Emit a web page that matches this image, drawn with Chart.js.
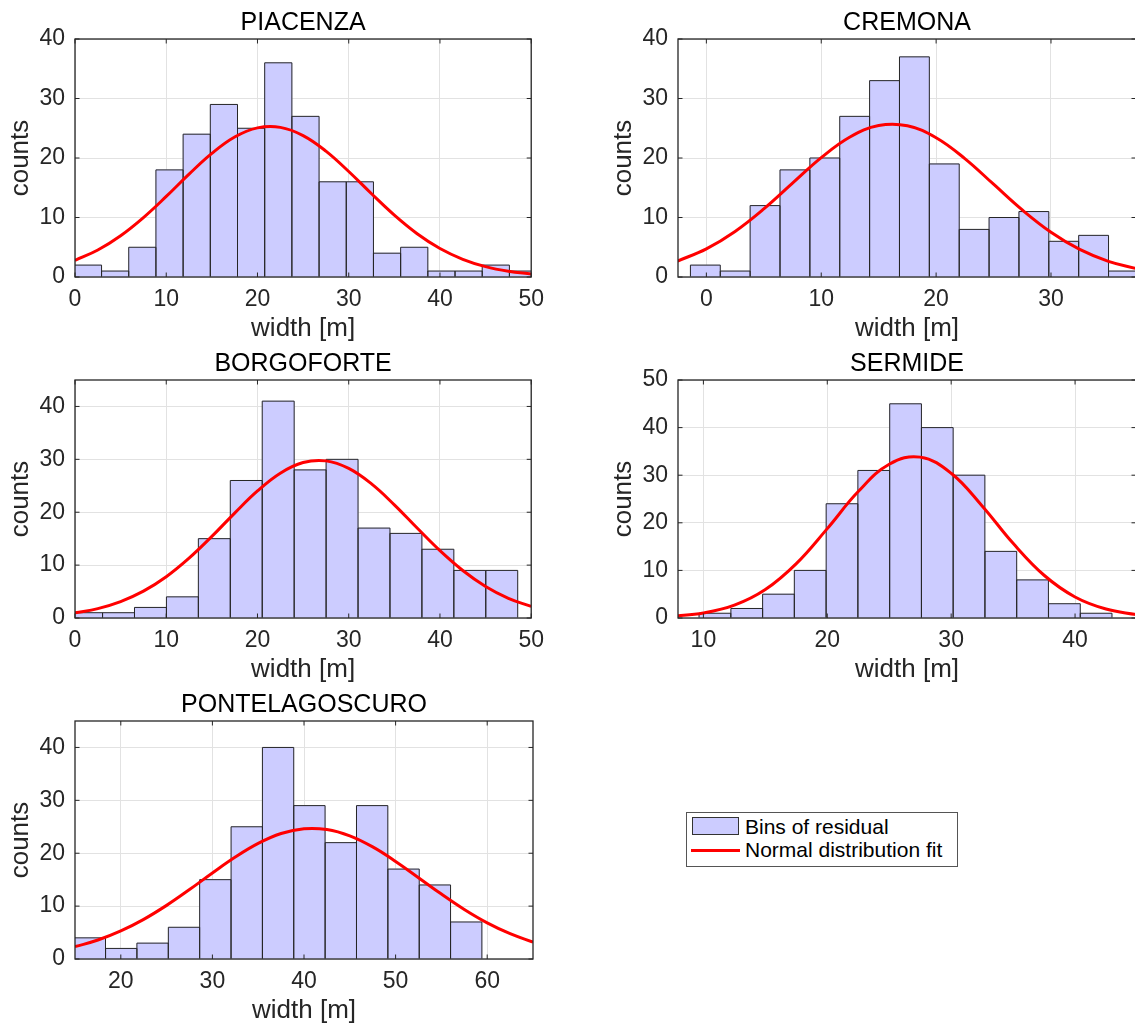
<!DOCTYPE html>
<html>
<head>
<meta charset="utf-8">
<script src="https://cdn.jsdelivr.net/npm/chart.js@4.4.1/dist/chart.umd.min.js"></script>
<style>
html, body { margin: 0; padding: 0; background: #ffffff; }
body { width: 1135px; height: 1027px; overflow: hidden; position: relative; font-family: "Liberation Sans", Arial, Helvetica, sans-serif; }
canvas { position: absolute; }
#legend { position: absolute; left: 686px; top: 812px; width: 272px; height: 55px; border: 1px solid #555555; box-sizing: border-box; background: #ffffff; }
#legend .patch { position: absolute; left: 5px; top: 4px; width: 47px; height: 18px; background: #ccccff; border: 1px solid #333333; box-sizing: border-box; }
#legend .line { position: absolute; left: 4px; top: 36px; width: 49px; height: 3px; background: #ff0000; }
#legend .txt { position: absolute; left: 58px; font-size: 21px; line-height: 21px; color: #000000; white-space: nowrap; }
</style>
</head>
<body>
<canvas id="c1" width="553" height="345" style="left:0px;top:-1px;width:553px;height:345px;"></canvas>
<canvas id="c2" width="553" height="345" style="left:603px;top:-1px;width:553px;height:345px;"></canvas>
<canvas id="c3" width="553" height="345" style="left:0px;top:340px;width:553px;height:345px;"></canvas>
<canvas id="c4" width="553" height="345" style="left:603px;top:340px;width:553px;height:345px;"></canvas>
<canvas id="c5" width="553" height="345" style="left:0px;top:681px;width:553px;height:345px;"></canvas>
<div id="legend">
  <div class="patch"></div>
  <div class="txt" style="top:3px;">Bins of residual</div>
  <div class="line"></div>
  <div class="txt" style="top:26px;">Normal distribution fit</div>
</div>
<script>
// ---------------- DATA ----------------
const seriesLabels = ['Bins of residual', 'Normal distribution fit'];
const xAxisLabel = 'width [m]';
const yAxisLabel = 'counts';

// PIACENZA
const piacenzaCenters = [1.42, 4.40, 7.38, 10.36, 13.34, 16.32, 19.30, 22.28, 25.26, 28.24, 31.22, 34.20, 37.18, 40.16, 43.14, 46.12, 49.10];
const piacenzaCounts  = [2, 1, 5, 18, 24, 29, 25, 36, 27, 16, 16, 4, 5, 1, 1, 2, 1];
const piacenzaFitX = [0, 2.5, 5, 7.5, 10, 12.5, 15, 17.5, 20, 22.5, 25, 27.5, 30, 32.5, 35, 37.5, 40, 42.5, 45, 47.5, 50];
const piacenzaFitY = [2.80, 4.54, 6.94, 9.99, 13.54, 17.29, 20.77, 23.52, 25.06, 25.15, 23.77, 21.16, 17.73, 13.99, 10.40, 7.28, 4.79, 2.98, 1.74, 0.96, 0.50];
const piacenzaXTicks = [0, 10, 20, 30, 40, 50];
const piacenzaYTicks = [0, 10, 20, 30, 40];

// CREMONA
const cremonaCenters = [-0.09, 2.51, 5.11, 7.71, 10.31, 12.91, 15.51, 18.11, 20.71, 23.31, 25.91, 28.51, 31.11, 33.71, 36.31];
const cremonaCounts  = [2, 1, 12, 18, 20, 27, 33, 37, 19, 8, 10, 11, 6, 7, 1];
const cremonaFitX = [-2.5, 0, 2.5, 5, 7.5, 10, 12.5, 15, 17.5, 20, 22.5, 25, 27.5, 30, 32.5, 35, 37.5];
const cremonaFitY = [2.69, 4.73, 7.66, 11.44, 15.77, 20.06, 23.53, 25.46, 25.42, 23.41, 19.90, 15.59, 11.27, 7.52, 4.63, 2.63, 1.38];
const cremonaXTicks = [0, 10, 20, 30];
const cremonaYTicks = [0, 10, 20, 30, 40];

// BORGOFORTE
const borgoforteCenters = [1.27, 4.77, 8.27, 11.77, 15.27, 18.77, 22.27, 25.77, 29.27, 32.77, 36.27, 39.77, 43.27, 46.77];
const borgoforteCounts  = [1, 1, 2, 4, 15, 26, 41, 28, 30, 17, 16, 13, 9, 9];
const borgoforteFitX = [0, 2.5, 5, 7.5, 10, 12.5, 15, 17.5, 20, 22.5, 25, 27.5, 30, 32.5, 35, 37.5, 40, 42.5, 45, 47.5, 50];
const borgoforteFitY = [0.97, 1.78, 3.10, 5.07, 7.80, 11.31, 15.43, 19.84, 24.02, 27.38, 29.39, 29.71, 28.28, 25.35, 21.40, 17.01, 12.73, 8.98, 5.96, 3.72, 2.19];
const borgoforteXTicks = [0, 10, 20, 30, 40, 50];
const borgoforteYTicks = [0, 10, 20, 30, 40];

// SERMIDE
const sermideCenters = [10.93, 13.50, 16.06, 18.62, 21.19, 23.75, 26.32, 28.88, 31.44, 34.01, 36.57, 39.14, 41.70];
const sermideCounts  = [1, 2, 5, 10, 24, 31, 45, 40, 30, 14, 8, 3, 1];
const sermideFitX = [7.5, 10, 12.5, 15, 17.5, 20, 22.5, 25, 27.5, 30, 32.5, 35, 37.5, 40, 42.5, 45];
const sermideFitY = [0.35, 1.04, 2.69, 5.98, 11.43, 18.78, 26.56, 32.30, 33.80, 30.41, 23.54, 15.68, 8.98, 4.42, 1.88, 0.68];
const sermideXTicks = [10, 20, 30, 40];
const sermideYTicks = [0, 10, 20, 30, 40, 50];

// PONTELAGOSCURO
const ponteCenters = [16.62, 20.05, 23.47, 26.90, 30.32, 33.75, 37.17, 40.59, 44.02, 47.44, 50.87, 54.29, 57.71];
const ponteCounts  = [4, 2, 3, 6, 15, 25, 40, 29, 22, 29, 17, 14, 7];
const ponteFitX = [15, 17.5, 20, 22.5, 25, 27.5, 30, 32.5, 35, 37.5, 40, 42.5, 45, 47.5, 50, 52.5, 55, 57.5, 60, 62.5, 65];
const ponteFitY = [2.33, 3.59, 5.31, 7.50, 10.14, 13.13, 16.26, 19.27, 21.85, 23.72, 24.63, 24.48, 23.28, 21.19, 18.45, 15.38, 12.27, 9.36, 6.83, 4.78, 3.20];
const ponteXTicks = [20, 30, 40, 50, 60];
const ponteYTicks = [0, 10, 20, 30, 40];

// ---------------- DRAWING ----------------
const FONT = '"Liberation Sans", Arial, Helvetica, sans-serif';
Chart.defaults.font.family = FONT;

const panelDecor = {
  id: 'panelDecor',
  afterDatasetDraw(chart, args) {
    if (args.meta.type !== 'bar') return;
    const ctx = chart.ctx, a = chart.chartArea;
    ctx.save();
    ctx.beginPath();
    ctx.rect(a.left, a.top, a.right - a.left, a.bottom - a.top);
    ctx.clip();
    ctx.strokeStyle = '#262626';
    ctx.lineWidth = 1;
    ctx.beginPath();
    args.meta.data.forEach(el => {
      const p = el.getProps(['x', 'y', 'base', 'width'], true);
      const l = p.x - p.width / 2, r = p.x + p.width / 2;
      ctx.moveTo(l, p.base);
      ctx.lineTo(l, p.y);
      ctx.lineTo(r, p.y);
      ctx.lineTo(r, p.base);
    });
    ctx.stroke();
    ctx.restore();
  },
  afterDraw(chart, args, opts) {
    const ctx = chart.ctx, a = chart.chartArea;
    const xs = chart.scales.x, ys = chart.scales.y;
    ctx.save();
    ctx.strokeStyle = '#262626';
    ctx.lineWidth = 1;
    ctx.beginPath();
    const tl = 4.5;
    xs.ticks.forEach((t, i) => {
      const p = xs.getPixelForTick(i);
      ctx.moveTo(p, a.bottom); ctx.lineTo(p, a.bottom - tl);
      ctx.moveTo(p, a.top); ctx.lineTo(p, a.top + tl);
    });
    ys.ticks.forEach((t, i) => {
      const p = ys.getPixelForTick(i);
      ctx.moveTo(a.left, p); ctx.lineTo(a.left + tl, p);
      ctx.moveTo(a.right, p); ctx.lineTo(a.right - tl, p);
    });
    ctx.stroke();
    ctx.lineWidth = 1.3;
    ctx.strokeRect(a.left, a.top, a.right - a.left, a.bottom - a.top);
    ctx.fillStyle = '#000000';
    ctx.font = '25px ' + FONT;
    ctx.textAlign = 'center';
    ctx.textBaseline = 'alphabetic';
    ctx.fillText(opts.title, (a.left + a.right) / 2, a.top - 9);
    ctx.restore();
  }
};

function makePanel(id, title, centers, counts, fitX, fitY, xTicks, yTicks, xMin, xMax, yMax) {
  const tickFont = { family: FONT, size: 23 };
  const labelFont = { family: FONT, size: 26 };
  new Chart(document.getElementById(id), {
    type: 'bar',
    data: {
      datasets: [
        {
          type: 'line',
          label: seriesLabels[1],
          data: fitX.map((x, i) => ({ x: x, y: fitY[i] })),
          borderColor: '#ff0000',
          borderWidth: 3,
          pointRadius: 0,
          tension: 0.4,
          fill: false,
          clip: 0,
          order: 0
        },
        {
          type: 'bar',
          label: seriesLabels[0],
          data: centers.map((x, i) => ({ x: x, y: counts[i] })),
          backgroundColor: '#ccccff',
          borderWidth: 0,
          barPercentage: 1,
          categoryPercentage: 1,
          clip: 0,
          order: 1
        }
      ]
    },
    options: {
      responsive: false,
      animation: false,
      devicePixelRatio: 1,
      layout: { padding: { left: 0, right: 20, top: 40, bottom: 0 } },
      plugins: {
        legend: { display: false },
        tooltip: { enabled: false },
        title: { display: false },
        panelDecor: { title: title }
      },
      scales: {
        x: {
          type: 'linear',
          min: xMin, max: xMax,
          offset: false,
          grid: { offset: false, color: '#e2e2e2', drawTicks: false, lineWidth: 1 },
          border: { display: false },
          afterBuildTicks: s => { s.ticks = xTicks.map(v => ({ value: v })); },
          ticks: { padding: 9, color: '#262626', font: tickFont, maxRotation: 0, autoSkip: false },
          title: { display: true, text: xAxisLabel, color: '#262626', font: labelFont, padding: { top: 0, bottom: 0 } },
          afterFit: s => { s.height = 67; }
        },
        y: {
          type: 'linear',
          min: 0, max: yMax,
          grid: { color: '#e2e2e2', drawTicks: false, lineWidth: 1 },
          border: { display: false },
          afterBuildTicks: s => { s.ticks = yTicks.map(v => ({ value: v })); },
          ticks: { padding: 10, color: '#262626', font: tickFont },
          title: { display: true, text: yAxisLabel, color: '#262626', font: labelFont, padding: { top: 5, bottom: 0 } },
          afterFit: s => { s.width = 75; }
        }
      }
    },
    plugins: [panelDecor]
  });
}

makePanel('c1', 'PIACENZA', piacenzaCenters, piacenzaCounts, piacenzaFitX, piacenzaFitY, piacenzaXTicks, piacenzaYTicks, 0, 50, 40);
makePanel('c2', 'CREMONA', cremonaCenters, cremonaCounts, cremonaFitX, cremonaFitY, cremonaXTicks, cremonaYTicks, -2.47, 37.4, 40);
makePanel('c3', 'BORGOFORTE', borgoforteCenters, borgoforteCounts, borgoforteFitX, borgoforteFitY, borgoforteXTicks, borgoforteYTicks, 0, 50, 45);
makePanel('c4', 'SERMIDE', sermideCenters, sermideCounts, sermideFitX, sermideFitY, sermideXTicks, sermideYTicks, 7.95, 44.92, 50);
makePanel('c5', 'PONTELAGOSCURO', ponteCenters, ponteCounts, ponteFitX, ponteFitY, ponteXTicks, ponteYTicks, 15, 65, 45);
</script>
</body>
</html>
